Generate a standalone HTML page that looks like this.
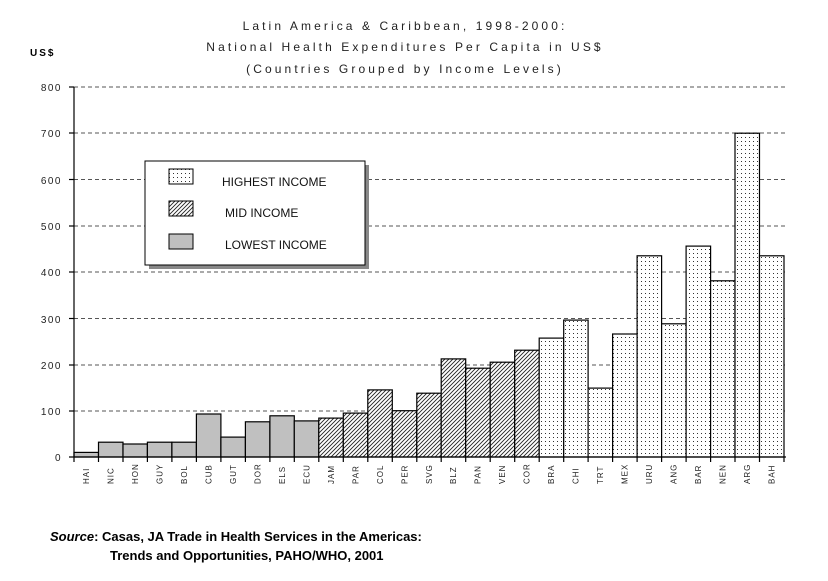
<!DOCTYPE html>
<html><head><style>body{margin:0;background:#fff}svg{display:block}</style></head><body>
<svg width="828" height="581" xmlns="http://www.w3.org/2000/svg" font-family="Liberation Sans, Arial, sans-serif">
<defs>
<pattern id="dots" width="4" height="4" patternUnits="userSpaceOnUse"><rect width="4" height="4" fill="#fff"/><rect x="1" y="1" width="1" height="1" fill="#333"/></pattern>
<pattern id="hatch" width="4" height="4" patternUnits="userSpaceOnUse"><rect width="4" height="4" fill="#fff"/><path d="M-1,5 L5,-1 M-1,1 L1,-1 M3,5 L5,3" stroke="#222" stroke-width="0.9"/></pattern>
</defs>
<g font-size="12" fill="#222" text-anchor="middle" letter-spacing="3.1">
<text x="405" y="30">Latin America &amp; Caribbean, 1998-2000:</text>
<text x="405" y="51">National Health Expenditures Per Capita in US$</text>
<text x="405" y="73">(Countries Grouped by Income Levels)</text>
</g>
<text x="30" y="56" font-size="10" font-weight="bold" letter-spacing="2">US$</text>
<g stroke="#555" stroke-dasharray="4,3" stroke-width="1">
<line x1="74" y1="87" x2="785" y2="87"/><line x1="74" y1="133" x2="785" y2="133"/><line x1="74" y1="179.5" x2="785" y2="179.5"/><line x1="74" y1="226" x2="785" y2="226"/><line x1="74" y1="272" x2="785" y2="272"/><line x1="74" y1="318.5" x2="785" y2="318.5"/><line x1="74" y1="365" x2="785" y2="365"/><line x1="74" y1="411" x2="785" y2="411"/>
</g>
<g font-size="10" fill="#222" text-anchor="end" letter-spacing="1.5">
<text x="62" y="91">800</text><text x="62" y="137">700</text><text x="62" y="184">600</text><text x="62" y="230">500</text><text x="62" y="276">400</text><text x="62" y="323">300</text><text x="62" y="369">200</text><text x="62" y="415">100</text><text x="62" y="461">0</text>
</g>
<g stroke="#000" stroke-width="1.2">
<g fill="#c0c0c0">
<rect x="74.0" y="452.4" width="24.5" height="4.6"/>
<rect x="98.5" y="442.2" width="24.5" height="14.8"/>
<rect x="123.0" y="444.0" width="24.4" height="13.0"/>
<rect x="147.4" y="442.2" width="24.5" height="14.8"/>
<rect x="171.9" y="442.2" width="24.5" height="14.8"/>
<rect x="196.4" y="414.0" width="24.5" height="43.0"/>
<rect x="220.9" y="437.1" width="24.5" height="19.9"/>
<rect x="245.4" y="421.8" width="24.5" height="35.2"/>
<rect x="269.9" y="415.8" width="24.4" height="41.2"/>
<rect x="294.3" y="420.9" width="24.5" height="36.1"/>
</g>
<g fill="url(#hatch)">
<rect x="318.8" y="418.1" width="24.5" height="38.9"/>
<rect x="343.3" y="413.1" width="24.5" height="43.9"/>
<rect x="367.8" y="389.9" width="24.5" height="67.1"/>
<rect x="392.3" y="410.7" width="24.5" height="46.3"/>
<rect x="416.8" y="393.2" width="24.4" height="63.8"/>
<rect x="441.2" y="358.9" width="24.5" height="98.1"/>
<rect x="465.7" y="368.2" width="24.5" height="88.8"/>
<rect x="490.2" y="362.2" width="24.5" height="94.8"/>
<rect x="514.7" y="350.2" width="24.5" height="106.8"/>
</g>
<g fill="url(#dots)">
<rect x="539.2" y="338.1" width="24.5" height="118.9"/>
<rect x="563.7" y="320.1" width="24.4" height="136.9"/>
<rect x="588.1" y="388.1" width="24.5" height="68.9"/>
<rect x="612.6" y="334.0" width="24.5" height="123.0"/>
<rect x="637.1" y="255.8" width="24.5" height="201.2"/>
<rect x="661.6" y="323.8" width="24.5" height="133.2"/>
<rect x="686.1" y="246.1" width="24.5" height="210.9"/>
<rect x="710.6" y="280.8" width="24.4" height="176.2"/>
<rect x="735.0" y="133.2" width="24.5" height="323.8"/>
<rect x="759.5" y="255.8" width="24.5" height="201.2"/>
</g>
</g>
<line x1="74" y1="87" x2="74" y2="462" stroke="#000" stroke-width="1.2"/>
<g stroke="#000" stroke-width="1.2"><line x1="69" y1="87" x2="74" y2="87"/><line x1="69" y1="133" x2="74" y2="133"/><line x1="69" y1="179.5" x2="74" y2="179.5"/><line x1="69" y1="226" x2="74" y2="226"/><line x1="69" y1="272" x2="74" y2="272"/><line x1="69" y1="318.5" x2="74" y2="318.5"/><line x1="69" y1="365" x2="74" y2="365"/><line x1="69" y1="411" x2="74" y2="411"/><line x1="69" y1="457" x2="786" y2="457"/>
<path d="M98.5,457v5M123,457v5M147.4,457v5M171.9,457v5M196.4,457v5M220.9,457v5M245.4,457v5M269.9,457v5M294.3,457v5M318.8,457v5M343.3,457v5M367.8,457v5M392.3,457v5M416.8,457v5M441.2,457v5M465.7,457v5M490.2,457v5M514.7,457v5M539.2,457v5M563.7,457v5M588.1,457v5M612.6,457v5M637.1,457v5M661.6,457v5M686.1,457v5M710.6,457v5M735,457v5M759.5,457v5M784,457v5"/></g>
<g font-size="8" fill="#222" letter-spacing="1">
<text transform="translate(89,484) rotate(-90)">HAI</text>
<text transform="translate(113.5,484) rotate(-90)">NIC</text>
<text transform="translate(138,484) rotate(-90)">HON</text>
<text transform="translate(162.4,484) rotate(-90)">GUY</text>
<text transform="translate(186.9,484) rotate(-90)">BOL</text>
<text transform="translate(211.4,484) rotate(-90)">CUB</text>
<text transform="translate(235.9,484) rotate(-90)">GUT</text>
<text transform="translate(260.4,484) rotate(-90)">DOR</text>
<text transform="translate(284.9,484) rotate(-90)">ELS</text>
<text transform="translate(309.3,484) rotate(-90)">ECU</text>
<text transform="translate(333.8,484) rotate(-90)">JAM</text>
<text transform="translate(358.3,484) rotate(-90)">PAR</text>
<text transform="translate(382.8,484) rotate(-90)">COL</text>
<text transform="translate(407.3,484) rotate(-90)">PER</text>
<text transform="translate(431.8,484) rotate(-90)">SVG</text>
<text transform="translate(456.2,484) rotate(-90)">BLZ</text>
<text transform="translate(480.7,484) rotate(-90)">PAN</text>
<text transform="translate(505.2,484) rotate(-90)">VEN</text>
<text transform="translate(529.7,484) rotate(-90)">COR</text>
<text transform="translate(554.2,484) rotate(-90)">BRA</text>
<text transform="translate(578.7,484) rotate(-90)">CHI</text>
<text transform="translate(603.1,484) rotate(-90)">TRT</text>
<text transform="translate(627.6,484) rotate(-90)">MEX</text>
<text transform="translate(652.1,484) rotate(-90)">URU</text>
<text transform="translate(676.6,484) rotate(-90)">ANG</text>
<text transform="translate(701.1,484) rotate(-90)">BAR</text>
<text transform="translate(725.6,484) rotate(-90)">NEN</text>
<text transform="translate(750,484) rotate(-90)">ARG</text>
<text transform="translate(774.5,484) rotate(-90)">BAH</text>
</g>
<rect x="149" y="165" width="220" height="104" fill="#888"/>
<rect x="145" y="161" width="220" height="104" fill="#fff" stroke="#000"/>
<rect x="169" y="169" width="24" height="15" fill="url(#dots)" stroke="#000"/>
<rect x="169" y="201" width="24" height="15" fill="url(#hatch)" stroke="#000"/>
<rect x="169" y="234" width="24" height="15" fill="#c0c0c0" stroke="#000"/>
<g font-size="12" fill="#111"><text x="222" y="186">HIGHEST INCOME</text><text x="225" y="217">MID INCOME</text><text x="225" y="249">LOWEST INCOME</text></g>
<g font-size="13" font-weight="bold" fill="#000"><text x="50" y="541"><tspan font-style="italic">Source</tspan>: Casas, JA Trade in Health Services  in the Americas:</text><text x="110" y="560">Trends and Opportunities, PAHO/WHO, 2001</text></g>
</svg>
</body></html>
